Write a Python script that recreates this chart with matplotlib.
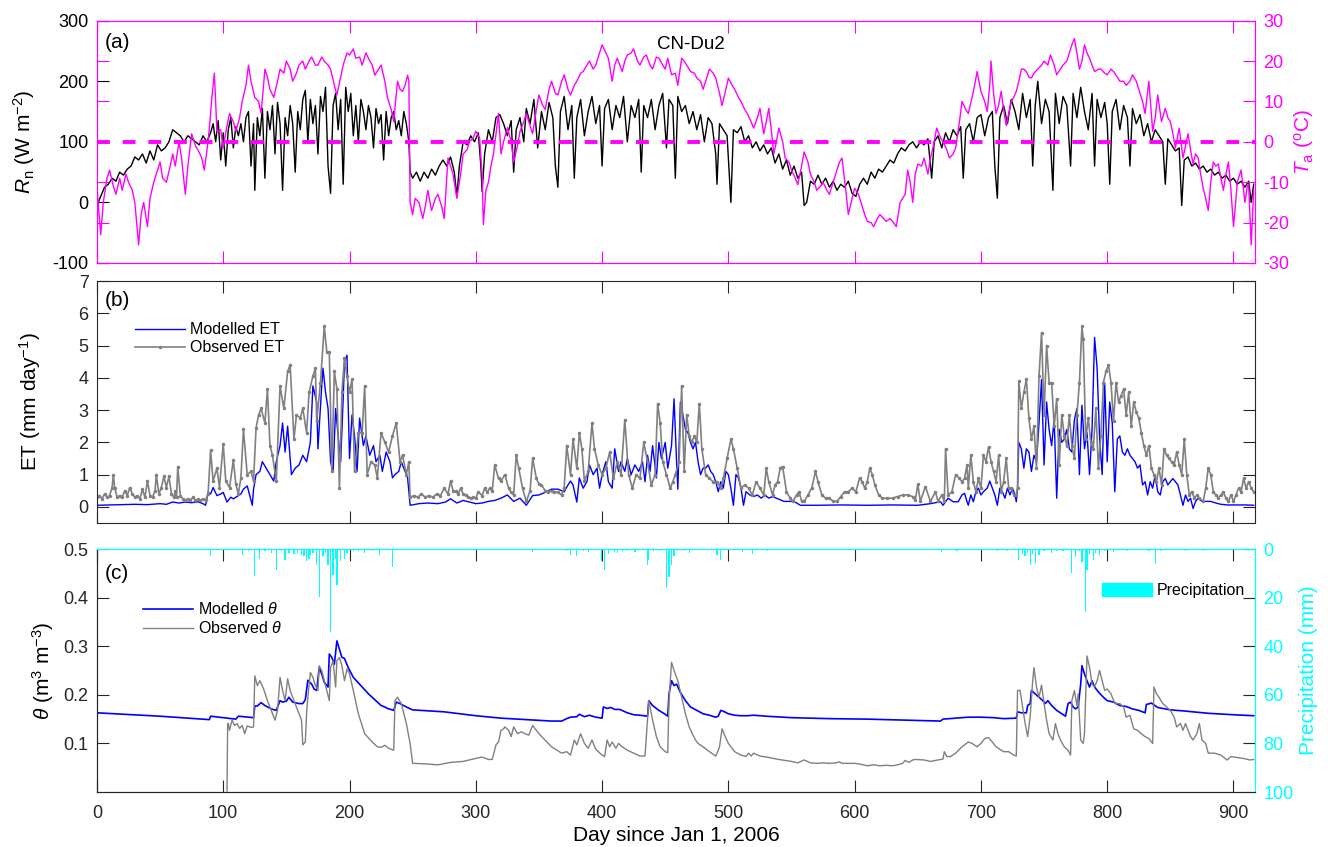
import numpy as np
import matplotlib
matplotlib.use("Agg")
import matplotlib.pyplot as plt
from matplotlib.patches import Patch

# (day, value) pairs, CN-Du2 site
rn = [(0, -5), (3, 10), (6, 25), (9, 30), (12, 40), (15, 35), (18, 50), (21, 45), (24, 55), (27, 60),
      (30, 75), (33, 70), (36, 80), (39, 65), (42, 85), (45, 70), (48, 95), (51, 85), (54, 90), (57, 100),
      (60, 120), (63, 115), (66, 110), (69, 100), (72, 110), (75, 105), (78, 100), (81, 95), (84, 110),
      (87, 100), (90, 115), (92, 130), (94, 100), (96, 135), (98, 70), (100, 115), (102, 60), (104, 120),
      (106, 140), (108, 90), (110, 125), (112, 110), (114, 130), (116, 100), (118, 140), (120, 150),
      (122, 60), (124, 130), (125, 20), (127, 140), (129, 110), (131, 155), (133, 40), (135, 150),
      (137, 120), (139, 160), (141, 80), (143, 165), (145, 130), (147, 20), (149, 140), (151, 110),
      (153, 160), (155, 130), (157, 50), (159, 150), (161, 120), (163, 170), (165, 185), (167, 100),
      (169, 170), (171, 130), (173, 160), (175, 80), (177, 175), (179, 150), (181, 190), (183, 60),
      (185, 15), (187, 160), (189, 180), (191, 120), (193, 170), (195, 30), (197, 190), (199, 150),
      (201, 180), (203, 110), (205, 160), (207, 100), (209, 170), (211, 150), (213, 120), (215, 160),
      (217, 140), (219, 90), (221, 155), (223, 130), (225, 145), (227, 70), (229, 150), (231, 110),
      (233, 140), (235, 150), (237, 120), (239, 135), (241, 110), (243, 150), (245, 130), (247, 100),
      (248, 50), (250, 40), (253, 50), (256, 35), (259, 50), (262, 40), (265, 55), (268, 45), (271, 60),
      (274, 70), (277, 60), (280, 75), (283, 50), (285, 10), (287, 60), (290, 100), (293, 95), (296, 110),
      (299, 100), (302, 115), (304, 60), (305, 18), (307, 80), (310, 120), (313, 100), (316, 140),
      (319, 145), (322, 130), (325, 110), (328, 135), (330, 50), (332, 120), (335, 140), (338, 100),
      (340, 155), (343, 130), (346, 170), (349, 90), (352, 150), (355, 120), (358, 165), (361, 140),
      (363, 60), (365, 25), (367, 150), (370, 175), (373, 120), (376, 160), (378, 40), (380, 140),
      (383, 170), (386, 110), (389, 150), (392, 175), (395, 130), (398, 160), (400, 60), (402, 155),
      (405, 170), (408, 120), (411, 160), (414, 140), (417, 175), (420, 100), (423, 160), (426, 140),
      (429, 170), (431, 50), (433, 160), (436, 140), (439, 170), (442, 120), (445, 160), (448, 180),
      (451, 90), (453, 170), (456, 160), (458, 40), (460, 175), (463, 150), (466, 160), (469, 130),
      (472, 150), (475, 120), (478, 145), (481, 100), (484, 140), (487, 130), (490, 80), (491, 30),
      (493, 130), (496, 120), (499, 110), (502, 0), (504, 120), (507, 115), (510, 125), (513, 100),
      (516, 110), (519, 90), (522, 100), (525, 85), (528, 95), (531, 80), (534, 90), (537, 65), (540, 80),
      (543, 55), (546, 70), (549, 45), (552, 60), (555, 40), (558, 50), (560, -5), (562, 0), (565, 35),
      (568, 30), (571, 45), (574, 30), (577, 40), (580, 25), (583, 35), (586, 20), (589, 30), (592, 25),
      (595, 35), (598, 15), (601, 10), (604, 30), (607, 40), (610, 30), (613, 50), (616, 40), (619, 55),
      (622, 50), (625, 60), (628, 70), (631, 65), (634, 80), (637, 90), (640, 85), (643, 95), (646, 100),
      (649, 90), (652, 100), (655, 95), (658, 105), (661, 40), (663, 100), (666, 110), (669, 90),
      (672, 115), (675, 100), (678, 120), (681, 110), (684, 125), (686, 40), (688, 120), (691, 130),
      (694, 100), (697, 140), (700, 145), (703, 110), (706, 140), (709, 150), (711, 60), (713, 7),
      (715, 140), (718, 160), (721, 130), (724, 170), (727, 150), (730, 120), (733, 180), (736, 140),
      (739, 170), (741, 60), (743, 160), (745, 200), (748, 130), (751, 170), (754, 150), (757, 20),
      (759, 180), (762, 130), (765, 175), (768, 160), (771, 60), (773, 180), (776, 140), (779, 190),
      (782, 150), (785, 120), (788, 180), (790, 60), (792, 170), (795, 140), (798, 165), (800, 130),
      (802, 30), (804, 150), (807, 170), (810, 120), (813, 160), (816, 140), (818, 60), (820, 155),
      (823, 130), (826, 145), (829, 110), (832, 130), (835, 100), (838, 120), (841, 110), (844, 100),
      (846, 30), (848, 105), (851, 95), (854, 85), (857, 90), (859, -5), (861, 70), (864, 75), (867, 60),
      (870, 65), (873, 55), (876, 60), (879, 50), (882, 55), (885, 45), (888, 50), (891, 40), (894, 45),
      (897, 35), (900, 40), (903, 30), (906, 35), (909, 25), (912, 35), (914, 0), (916, 30)]

ta = [(0, -11.5), (3, -23), (5, -15), (8, -9), (10, -7), (13, -11), (15, -13), (18, -9), (20, -12),
      (23, -8), (25, -10), (28, -12), (30, -15), (33, -25.5), (35, -18), (37, -15), (40, -21), (42, -14),
      (45, -10), (47, -8), (50, -5), (52, -9), (55, -10), (58, -6), (60, -3), (62, -6), (65, 0), (67, -4),
      (70, -13), (72, -6), (75, 2), (78, -1), (80, -2), (83, -4), (85, -7), (88, 0), (90, 7), (91, 11),
      (93, 17), (95, 2.6), (98, 3), (100, -1.5), (103, 4), (105, 7), (108, 5), (110, 2.6), (113, 6),
      (115, 10), (118, 14), (120, 19), (122, 15), (125, 11), (128, 10), (130, 7), (133, 18), (135, 16),
      (137, 13), (140, 11), (143, 15), (145, 18), (148, 17), (150, 20), (153, 18), (155, 15), (158, 17),
      (160, 19), (163, 20), (165, 18), (168, 20), (170, 21), (173, 19), (175, 19), (178, 21), (180, 20),
      (183, 19), (185, 18), (188, 14), (190, 11.6), (193, 16), (195, 19), (198, 22), (200, 21.5),
      (203, 23), (205, 20.7), (208, 21), (210, 19), (213, 22), (215, 20.7), (218, 19), (220, 16.5),
      (223, 18), (225, 19), (228, 15), (230, 11), (233, 8), (235, 5), (238, 15), (240, 13), (242, 12.5),
      (244, 14), (246, 16.5), (247, 15), (248, -15), (250, -18), (252, -14), (255, -15), (258, -19),
      (260, -16), (262, -12), (265, -17), (268, -14), (270, -13), (273, -16), (275, -19), (278, -4),
      (280, -6), (282, -8), (285, -14), (288, -8), (290, -3), (293, -2), (295, 0), (298, 1), (300, 2.6),
      (303, 1), (305, -8), (306, -20.5), (308, -12), (310, -10), (312, -6), (314, -3), (316, 2), (318, 7),
      (320, -3), (322, 0), (325, 3.5), (328, 0), (330, -5), (333, -1), (335, 2.6), (338, 5), (340, 7),
      (343, 4), (345, 2), (348, 8), (350, 11.6), (353, 9), (355, 8), (358, 13), (360, 15), (363, 12),
      (365, 11.6), (368, 15), (370, 16.6), (373, 13), (375, 11.6), (378, 14), (380, 15), (383, 17),
      (385, 17.4), (388, 19), (390, 20), (393, 18), (395, 19), (398, 22), (400, 24), (403, 22),
      (405, 20.7), (408, 15), (410, 19), (412, 20.7), (414, 19), (416, 17.4), (418, 20), (420, 21.5),
      (423, 22), (425, 23), (428, 20), (430, 19), (433, 21), (435, 21.5), (438, 19), (440, 18), (443, 21),
      (445, 20.7), (448, 19), (450, 18), (452, 20.7), (455, 16.6), (458, 17), (460, 14), (463, 20.7),
      (465, 20), (467, 19), (470, 17.4), (473, 17), (475, 15.8), (478, 15), (480, 13), (483, 16),
      (485, 18), (488, 17), (490, 15.8), (493, 12), (495, 9), (498, 13), (500, 15.8), (503, 14), (505, 13),
      (508, 11), (510, 10), (513, 8), (515, 7), (518, 5), (520, 3.4), (523, 6), (525, 8.3), (528, 2),
      (530, 5), (532, 8.3), (534, 3), (536, -3), (538, 0), (540, 3.4), (543, 0), (545, -4), (548, -5),
      (550, -7), (553, -9), (555, -10.6), (558, -6), (560, -2.5), (563, -5), (565, -8), (568, -10),
      (570, -12), (573, -11), (575, -10), (578, -12), (580, -13), (583, -10), (585, -8), (588, -5),
      (590, -4), (593, -12), (595, -18), (598, -14), (600, -11.5), (603, -13), (605, -15), (608, -18),
      (610, -19.7), (613, -20), (615, -21), (618, -19), (620, -18), (623, -19), (625, -19.7), (628, -19),
      (630, -19.7), (633, -21), (636, -15), (638, -14), (640, -13), (642, -7), (644, -10), (646, -15),
      (648, -8), (650, -5.5), (653, -6), (655, -4), (658, -8), (660, -4), (662, -1.5), (665, 3.4),
      (668, 1), (670, 0), (673, -2), (675, -4), (678, -3), (680, -1.5), (683, 5), (685, 10), (688, 8),
      (690, 7), (693, 11), (695, 14), (697, 17.4), (700, 12.5), (703, 10), (705, 7.5), (707, 14),
      (708, 20), (710, 12), (712, 7), (714, 9), (716, 12.5), (718, 8), (720, 4), (722, 7), (724, 10),
      (726, 11), (728, 12.5), (730, 15), (732, 18), (734, 18), (736, 17.4), (738, 16), (740, 15.8),
      (742, 17), (745, 18), (748, 19), (750, 20), (753, 19), (755, 21.5), (758, 19), (760, 16.6),
      (763, 18), (765, 19), (768, 20), (770, 22), (772, 24), (774, 25.6), (776, 22), (778, 18), (780, 20),
      (782, 24), (784, 22), (786, 20.7), (788, 19), (790, 17.4), (793, 18), (795, 18), (798, 17),
      (800, 16.6), (803, 18), (805, 17.4), (808, 16), (810, 15), (813, 15), (815, 14), (818, 15),
      (820, 16.6), (823, 15), (825, 13), (828, 10), (830, 7), (833, 15), (836, 2.6), (838, 6),
      (840, 11.6), (843, 5), (846, 8.3), (848, 6), (850, 5), (852, 2), (854, -1.5), (857, 3.4), (860, -4),
      (862, -1), (864, 2), (866, -2), (868, -5.5), (870, -3), (872, -4), (874, -8), (876, -11.5),
      (878, -14), (880, -17), (882, -10), (884, -5), (886, -6), (888, -5.5), (890, -9), (892, -12),
      (894, -8), (896, -5), (898, -12), (900, -21), (902, -14), (903, -10), (905, -8), (906, -7),
      (908, -12), (909, -15), (911, -11), (912, -10.6), (914, -25.5), (916, -12)]

et_obs = [(0, 0.3), (2, 0.35), (4, 0.25), (6, 0.4), (8, 0.3), (10, 0.35), (12, 0.6), (13, 1.0), (14, 0.6),
          (16, 0.3), (18, 0.35), (20, 0.3), (22, 0.5), (24, 0.35), (26, 0.6), (28, 0.4), (30, 0.3),
          (32, 0.35), (34, 0.25), (36, 0.55), (38, 0.3), (40, 0.8), (42, 0.35), (44, 0.3), (46, 0.5),
          (47, 1.0), (49, 0.4), (51, 0.6), (53, 0.95), (55, 0.6), (57, 0.95), (59, 0.4), (61, 0.3), (62, 0.5),
          (63, 0.3), (64, 1.25), (66, 0.35), (68, 0.25), (70, 0.2), (72, 0.25), (74, 0.2), (76, 0.3),
          (78, 0.2), (80, 0.25), (82, 0.2), (84, 0.25), (86, 0.2), (88, 0.4), (90, 1.75), (92, 0.8),
          (95, 1.2), (97, 0.6), (100, 1.95), (102, 0.8), (105, 0.6), (108, 1.45), (110, 0.7), (112, 0.4),
          (114, 0.9), (116, 2.4), (119, 1.0), (122, 1.1), (124, 0.8), (126, 2.45), (128, 2.85), (130, 3.05),
          (133, 2.6), (135, 3.65), (137, 1.9), (139, 1.6), (142, 0.8), (145, 3.75), (148, 3.05), (151, 4.2),
          (153, 4.4), (156, 2.1), (158, 2.85), (161, 2.75), (163, 3.05), (166, 2.3), (168, 3.55),
          (171, 4.05), (173, 4.3), (174, 2.65), (177, 3.85), (180, 5.6), (182, 4.8), (184, 4.8), (186, 1.1),
          (188, 4.2), (190, 3.65), (192, 0.6), (194, 3.55), (196, 4.6), (198, 4.05), (200, 3.55),
          (202, 3.95), (204, 1.1), (207, 2.3), (210, 2.3), (212, 3.75), (214, 1.0), (217, 1.4), (220, 1.3),
          (222, 0.9), (225, 2.3), (228, 2.0), (231, 1.7), (234, 2.2), (237, 2.6), (240, 1.4), (242, 1.6),
          (245, 1.0), (247, 1.4), (248, 0.3), (251, 0.35), (254, 0.3), (257, 0.4), (260, 0.3), (263, 0.35),
          (266, 0.3), (269, 0.4), (272, 0.35), (275, 0.58), (278, 0.4), (280, 0.8), (282, 0.5), (284, 0.48),
          (286, 0.4), (288, 0.58), (290, 0.4), (292, 0.37), (294, 0.3), (296, 0.27), (298, 0.3), (300, 0.27),
          (302, 0.47), (305, 0.35), (307, 0.58), (309, 0.45), (311, 0.58), (313, 0.5), (315, 1.3),
          (318, 0.88), (320, 0.8), (323, 1.0), (326, 0.58), (328, 0.45), (330, 0.37), (332, 1.6), (334, 1.2),
          (337, 0.58), (340, 0.17), (343, 0.5), (345, 1.5), (348, 0.88), (350, 0.7), (352, 0.68), (355, 0.5),
          (357, 0.47), (360, 0.5), (362, 0.47), (365, 0.45), (368, 0.37), (370, 0.6), (372, 1.9), (375, 1.0),
          (377, 2.1), (380, 1.2), (382, 2.3), (384, 1.8), (386, 0.8), (389, 1.1), (392, 2.6), (394, 1.8),
          (397, 1.3), (400, 1.0), (403, 1.2), (406, 1.7), (409, 0.88), (412, 1.4), (415, 1.0), (418, 2.7),
          (421, 1.0), (424, 0.58), (427, 1.0), (430, 0.88), (433, 2.0), (436, 1.4), (439, 0.68), (442, 1.0),
          (444, 3.2), (446, 2.6), (448, 1.4), (451, 1.0), (454, 0.58), (456, 0.78), (458, 1.0), (461, 1.4),
          (463, 3.75), (465, 1.1), (467, 2.85), (469, 2.2), (471, 2.0), (473, 2.2), (475, 2.0), (477, 3.2),
          (479, 1.8), (482, 1.0), (485, 0.88), (488, 0.78), (491, 0.78), (494, 0.58), (496, 0.88),
          (499, 1.5), (502, 2.1), (504, 1.8), (507, 1.2), (510, 0.58), (513, 0.68), (516, 0.58), (519, 0.37),
          (522, 0.78), (525, 0.58), (528, 0.37), (530, 1.2), (532, 0.78), (535, 0.37), (537, 0.68),
          (539, 0.78), (541, 1.2), (543, 1.25), (546, 0.47), (549, 0.27), (551, 0.17), (554, 0.37),
          (556, 0.47), (558, 0.17), (560, 0.17), (563, 0.37), (566, 0.58), (569, 1.1), (571, 0.78),
          (574, 0.37), (577, 0.27), (580, 0.27), (583, 0.17), (586, 0.17), (589, 0.32), (592, 0.47),
          (595, 0.47), (598, 0.58), (601, 0.47), (604, 0.9), (606, 0.78), (608, 0.58), (610, 0.78),
          (612, 1.2), (614, 1.0), (616, 0.68), (619, 0.37), (622, 0.27), (626, 0.27), (630, 0.27),
          (634, 0.32), (638, 0.37), (642, 0.37), (646, 0.32), (648, 0.2), (650, 0.7), (652, 0.17),
          (656, 0.63), (660, 0.17), (664, 0.47), (666, 0.17), (669, 0.37), (671, 0.17), (672, 1.8),
          (674, 0.37), (677, 0.47), (680, 1.0), (683, 0.88), (685, 0.78), (687, 0.88), (689, 1.3),
          (690, 0.58), (692, 1.6), (694, 0.78), (696, 0.47), (698, 0.88), (700, 0.58), (702, 1.6),
          (704, 1.4), (706, 1.85), (708, 1.4), (710, 1.1), (712, 0.78), (714, 1.6), (716, 0.47), (718, 0.78),
          (720, 1.5), (722, 0.58), (724, 0.58), (726, 0.37), (728, 0.37), (729, 0.58), (730, 3.9),
          (732, 3.05), (734, 3.55), (736, 3.95), (738, 2.75), (740, 2.1), (742, 2.5), (744, 1.2), (746, 4.05),
          (748, 5.4), (750, 2.85), (752, 5.0), (754, 3.85), (756, 3.85), (758, 2.5), (760, 3.35), (762, 1.3),
          (764, 2.85), (766, 2.2), (768, 1.9), (770, 2.85), (772, 1.9), (774, 1.5), (776, 2.85), (778, 3.85),
          (780, 5.6), (781, 5.2), (783, 2.1), (785, 2.75), (787, 2.0), (789, 1.8), (791, 3.05), (793, 1.2),
          (795, 2.2), (797, 3.85), (799, 4.2), (801, 4.4), (803, 3.85), (805, 2.65), (807, 3.85),
          (809, 3.25), (811, 3.45), (813, 3.65), (815, 2.85), (817, 3.55), (819, 2.5), (821, 3.25),
          (823, 2.95), (825, 2.75), (827, 2.3), (829, 1.9), (831, 1.6), (833, 1.9), (835, 1.2), (837, 1.0),
          (839, 0.78), (841, 1.2), (843, 0.68), (845, 1.8), (847, 1.6), (849, 1.5), (851, 1.4), (853, 1.3),
          (855, 1.7), (857, 1.3), (859, 1.0), (861, 2.1), (863, 1.0), (865, 0.37), (867, 0.47), (869, 0.27),
          (871, 0.37), (873, 0.27), (876, 0.17), (878, 0.58), (880, 1.2), (882, 1.0), (884, 0.47),
          (886, 0.37), (888, 0.27), (890, 0.37), (892, 0.47), (894, 0.27), (896, 0.17), (898, 0.37),
          (900, 0.17), (902, 0.37), (904, 0.58), (906, 0.47), (908, 0.88), (910, 0.58), (912, 0.78),
          (914, 0.58), (916, 0.47)]

et_mod = [(0, 0.05), (10, 0.06), (20, 0.07), (30, 0.08), (40, 0.07), (50, 0.1), (55, 0.08), (60, 0.15),
          (65, 0.12), (70, 0.15), (75, 0.13), (80, 0.16), (84, 0.1), (86, 0.05), (88, 0.45), (90, 0.4),
          (92, 0.6), (95, 0.35), (98, 0.4), (100, 0.45), (103, 0.15), (106, 0.3), (108, 0.25), (110, 0.3),
          (112, 0.35), (114, 0.4), (116, 0.55), (119, 0.65), (121, 0.35), (123, 0.05), (124, 0.55),
          (126, 1.0), (129, 1.1), (131, 1.4), (134, 1.2), (137, 1.0), (140, 0.8), (142, 1.4), (145, 1.9),
          (147, 2.6), (149, 1.7), (151, 2.5), (154, 1.0), (157, 1.2), (160, 1.3), (163, 1.6), (166, 1.4),
          (169, 2.0), (171, 3.75), (174, 3.25), (175, 1.8), (178, 3.75), (179, 4.3), (181, 3.55),
          (183, 3.05), (185, 1.4), (187, 1.1), (189, 3.05), (191, 2.2), (193, 1.4), (195, 3.35), (196, 4.5),
          (198, 4.7), (200, 1.5), (202, 2.85), (204, 2.2), (206, 1.1), (208, 2.75), (211, 1.9), (213, 2.2),
          (216, 1.6), (219, 1.9), (221, 1.4), (224, 1.6), (226, 1.1), (229, 1.7), (232, 1.4), (234, 0.9),
          (236, 1.0), (239, 1.1), (241, 1.4), (244, 1.1), (246, 0.9), (248, 0.05), (255, 0.1), (262, 0.12),
          (270, 0.1), (276, 0.15), (280, 0.25), (285, 0.12), (290, 0.2), (295, 0.15), (300, 0.1),
          (305, 0.12), (310, 0.17), (315, 0.2), (320, 0.27), (325, 0.37), (330, 0.17), (335, 0.27),
          (340, 0.05), (345, 0.35), (350, 0.37), (355, 0.45), (360, 0.55), (365, 0.55), (370, 0.47),
          (373, 0.68), (375, 0.8), (377, 0.68), (380, 0.15), (382, 0.9), (385, 0.58), (388, 0.78), (390, 1.3),
          (393, 1.0), (396, 1.2), (398, 0.58), (400, 1.0), (403, 1.4), (405, 0.78), (408, 0.58), (410, 1.8),
          (413, 1.1), (415, 1.4), (418, 1.1), (420, 1.5), (423, 1.0), (426, 1.3), (429, 1.1), (432, 1.4),
          (434, 0.78), (436, 1.6), (438, 1.1), (440, 1.9), (443, 0.9), (445, 2.0), (447, 1.5), (450, 2.0),
          (452, 1.2), (455, 1.9), (457, 3.35), (459, 1.4), (460, 0.55), (462, 3.25), (464, 2.85), (466, 2.4),
          (468, 2.3), (470, 2.0), (472, 1.8), (474, 2.0), (476, 1.4), (478, 1.0), (480, 1.2), (482, 1.2),
          (484, 1.3), (486, 1.1), (488, 1.0), (490, 0.78), (492, 0.47), (494, 0.78), (496, 0.58), (498, 1.1),
          (500, 1.0), (502, 0.58), (504, 0.05), (506, 1.0), (508, 0.9), (510, 0.58), (512, 0.05),
          (514, 0.47), (517, 0.37), (520, 0.32), (523, 0.37), (526, 0.27), (529, 0.37), (532, 0.27),
          (535, 0.32), (538, 0.27), (541, 0.22), (544, 0.17), (548, 0.17), (552, 0.17), (555, 0.1),
          (557, 0.05), (570, 0.05), (590, 0.06), (610, 0.05), (630, 0.06), (650, 0.05), (660, 0.1),
          (668, 0.16), (670, 0.05), (674, 0.27), (678, 0.16), (682, 0.16), (685, 0.37), (687, 0.42),
          (689, 0.16), (690, 0.05), (692, 0.37), (694, 0.16), (696, 0.47), (698, 0.58), (700, 0.37),
          (702, 0.47), (705, 0.58), (707, 0.8), (709, 0.58), (711, 0.37), (713, 0.05), (715, 0.58),
          (717, 0.47), (719, 0.27), (721, 0.58), (723, 0.37), (725, 0.58), (727, 0.37), (728, 0.16),
          (729, 0.58), (730, 2.0), (732, 1.8), (734, 1.2), (736, 1.8), (738, 1.7), (740, 1.1), (742, 1.6),
          (744, 1.4), (746, 2.6), (748, 3.95), (750, 1.3), (752, 3.25), (754, 2.4), (756, 1.9), (758, 2.7),
          (760, 0.27), (762, 2.4), (764, 2.0), (766, 2.1), (768, 2.4), (770, 1.8), (772, 1.7), (774, 2.7),
          (776, 3.05), (778, 1.0), (780, 3.15), (782, 1.8), (784, 2.3), (786, 1.0), (788, 2.4), (790, 5.25),
          (792, 4.3), (794, 2.1), (796, 1.0), (798, 3.85), (800, 1.4), (802, 3.25), (804, 2.6), (806, 0.47),
          (808, 2.1), (810, 2.2), (812, 1.7), (814, 1.6), (816, 1.8), (818, 1.6), (820, 1.5), (822, 1.4),
          (824, 1.2), (826, 1.3), (828, 0.68), (830, 0.78), (832, 0.37), (834, 0.78), (836, 0.58),
          (838, 1.0), (840, 0.47), (842, 0.37), (844, 0.78), (846, 0.88), (848, 0.68), (850, 0.78),
          (852, 0.88), (854, 0.78), (856, 0.68), (858, 0.37), (860, 0.05), (862, 0.37), (864, 0.17),
          (866, 0.27), (868, -0.05), (870, 0.17), (872, 0.27), (875, 0.17), (878, 0.17), (882, 0.17),
          (886, 0.12), (890, 0.08), (895, 0.06), (900, 0.06), (905, 0.06), (910, 0.06), (916, 0.05)]

theta_mod = [(0, 0.163), (50, 0.156), (89, 0.149), (90, 0.156), (100, 0.153), (110, 0.150), (112, 0.156),
             (120, 0.154), (124, 0.153), (125, 0.177), (127, 0.177), (130, 0.184), (133, 0.178),
             (138, 0.171), (142, 0.168), (145, 0.188), (147, 0.185), (150, 0.187), (152, 0.195),
             (155, 0.185), (160, 0.182), (163, 0.182), (165, 0.19), (167, 0.23), (170, 0.222), (172, 0.212),
             (174, 0.209), (176, 0.256), (178, 0.243), (180, 0.226), (183, 0.216), (184, 0.284),
             (186, 0.277), (188, 0.263), (190, 0.311), (192, 0.294), (194, 0.277), (196, 0.275),
             (199, 0.256), (203, 0.236), (210, 0.216), (215, 0.202), (220, 0.19), (225, 0.178), (228, 0.175),
             (230, 0.172), (235, 0.168), (237, 0.185), (240, 0.182), (245, 0.175), (250, 0.169),
             (275, 0.165), (300, 0.157), (320, 0.152), (340, 0.149), (360, 0.146), (368, 0.146),
             (372, 0.151), (375, 0.154), (380, 0.155), (382, 0.16), (386, 0.155), (390, 0.158), (395, 0.154),
             (400, 0.152), (401, 0.175), (404, 0.172), (407, 0.174), (410, 0.17), (414, 0.17), (420, 0.163),
             (425, 0.159), (430, 0.158), (436, 0.156), (437, 0.188), (440, 0.178), (445, 0.168), (450, 0.16),
             (452, 0.156), (453, 0.202), (455, 0.229), (457, 0.219), (459, 0.222), (462, 0.205),
             (466, 0.188), (470, 0.175), (475, 0.168), (480, 0.161), (485, 0.158), (490, 0.154),
             (492, 0.156), (494, 0.168), (497, 0.165), (500, 0.161), (505, 0.158), (510, 0.157),
             (515, 0.157), (520, 0.158), (530, 0.156), (550, 0.153), (580, 0.151), (610, 0.150),
             (640, 0.148), (668, 0.146), (670, 0.15), (680, 0.152), (690, 0.154), (700, 0.154), (710, 0.153),
             (718, 0.151), (728, 0.152), (729, 0.165), (732, 0.163), (736, 0.163), (737, 0.178), (739, 0.182),
             (740, 0.209), (743, 0.202), (746, 0.195), (749, 0.188), (751, 0.182), (753, 0.188), (756, 0.178),
             (760, 0.168), (764, 0.161), (767, 0.156), (769, 0.182), (771, 0.185), (773, 0.175),
             (775, 0.171), (777, 0.175), (779, 0.222), (780, 0.26), (782, 0.243), (784, 0.229), (786, 0.216),
             (788, 0.229), (790, 0.216), (793, 0.206), (797, 0.195), (800, 0.188), (805, 0.185), (810, 0.178),
             (815, 0.176), (820, 0.171), (825, 0.168), (830, 0.163), (831, 0.18), (835, 0.183), (840, 0.174),
             (850, 0.169), (860, 0.167), (880, 0.162), (900, 0.159), (916, 0.157)]

theta_obs = [(103, 0.002), (103.5, 0.141), (104, 0.141), (105, 0.127), (107, 0.148), (109, 0.137),
             (111, 0.141), (113, 0.131), (115, 0.137), (117, 0.12), (119, 0.136), (121, 0.134), (123, 0.133),
             (124, 0.134), (125, 0.239), (127, 0.219), (129, 0.229), (132, 0.212), (135, 0.188), (138, 0.168),
             (141, 0.148), (143, 0.168), (145, 0.236), (147, 0.209), (149, 0.188), (151, 0.233), (153, 0.209),
             (156, 0.188), (159, 0.168), (162, 0.148), (163, 0.097), (165, 0.103), (166, 0.161), (167, 0.195),
             (169, 0.246), (171, 0.236), (173, 0.219), (175, 0.209), (176, 0.26), (178, 0.25), (180, 0.229),
             (182, 0.209), (184, 0.188), (185, 0.256), (187, 0.27), (189, 0.216), (190, 0.27), (192, 0.277),
             (194, 0.26), (196, 0.229), (198, 0.253), (200, 0.243), (203, 0.209), (207, 0.161), (212, 0.12),
             (218, 0.103), (222, 0.093), (225, 0.092), (228, 0.096), (231, 0.09), (235, 0.086), (236, 0.188),
             (238, 0.195), (241, 0.182), (245, 0.141), (248, 0.1), (250, 0.059), (260, 0.058), (270, 0.056),
             (280, 0.061), (290, 0.063), (298, 0.068), (305, 0.072), (310, 0.067), (313, 0.067), (316, 0.097),
             (318, 0.103), (320, 0.127), (322, 0.13), (323, 0.134), (326, 0.127), (328, 0.114), (330, 0.134),
             (333, 0.12), (336, 0.124), (339, 0.12), (342, 0.117), (345, 0.137), (350, 0.12), (360, 0.093),
             (368, 0.08), (372, 0.083), (375, 0.076), (378, 0.107), (380, 0.097), (383, 0.12), (386, 0.1),
             (389, 0.09), (392, 0.107), (395, 0.088), (400, 0.076), (402, 0.073), (404, 0.107), (406, 0.093),
             (408, 0.103), (411, 0.09), (413, 0.1), (416, 0.093), (420, 0.086), (425, 0.08), (430, 0.074),
             (434, 0.074), (437, 0.188), (440, 0.148), (443, 0.114), (446, 0.093), (450, 0.083), (452, 0.081),
             (453, 0.188), (455, 0.267), (457, 0.25), (460, 0.229), (463, 0.195), (466, 0.161), (469, 0.134),
             (472, 0.117), (474, 0.107), (476, 0.1), (480, 0.093), (485, 0.083), (490, 0.074), (492, 0.086),
             (493, 0.093), (495, 0.13), (497, 0.117), (500, 0.1), (505, 0.083), (510, 0.076), (514, 0.073),
             (516, 0.08), (518, 0.074), (520, 0.08), (525, 0.074), (530, 0.072), (540, 0.067), (550, 0.063),
             (555, 0.06), (560, 0.066), (565, 0.06), (570, 0.059), (575, 0.06), (580, 0.059), (585, 0.06),
             (588, 0.062), (590, 0.059), (595, 0.059), (600, 0.059), (605, 0.057), (610, 0.054),
             (615, 0.056), (620, 0.054), (625, 0.055), (630, 0.054), (634, 0.056), (638, 0.059), (640, 0.065),
             (643, 0.061), (646, 0.066), (648, 0.067), (655, 0.066), (660, 0.063), (670, 0.068), (671, 0.083),
             (673, 0.073), (676, 0.073), (680, 0.08), (685, 0.093), (690, 0.103), (693, 0.1), (697, 0.093),
             (700, 0.1), (703, 0.11), (706, 0.112), (709, 0.103), (712, 0.093), (715, 0.088), (718, 0.083),
             (722, 0.083), (726, 0.076), (728, 0.074), (729, 0.209), (731, 0.209), (733, 0.175), (735, 0.141),
             (737, 0.114), (739, 0.155), (741, 0.229), (742, 0.256), (744, 0.216), (746, 0.195), (748, 0.22),
             (750, 0.182), (752, 0.148), (754, 0.12), (757, 0.107), (759, 0.141), (761, 0.12), (763, 0.107),
             (766, 0.093), (769, 0.086), (771, 0.076), (772, 0.188), (774, 0.209), (776, 0.178), (777, 0.202),
             (779, 0.107), (781, 0.1), (782, 0.12), (784, 0.28), (786, 0.256), (788, 0.222), (790, 0.216),
             (792, 0.229), (794, 0.25), (796, 0.229), (798, 0.209), (800, 0.212), (803, 0.202), (806, 0.182),
             (810, 0.182), (813, 0.175), (815, 0.154), (818, 0.158), (821, 0.13), (824, 0.127), (827, 0.12),
             (830, 0.114), (833, 0.11), (836, 0.1), (837, 0.216), (839, 0.202), (841, 0.195), (844, 0.182),
             (847, 0.175), (850, 0.168), (853, 0.154), (855, 0.134), (858, 0.141), (860, 0.127), (862, 0.141),
             (864, 0.127), (866, 0.114), (868, 0.107), (871, 0.12), (873, 0.141), (875, 0.107), (878, 0.1),
             (880, 0.08), (885, 0.08), (890, 0.076), (895, 0.066), (898, 0.073), (903, 0.071), (908, 0.069),
             (913, 0.066), (916, 0.067)]

precip = [(5, 0.5), (20, 0.3), (45, 0.4), (90, 2.7), (100, 0.5), (115, 2.5), (120, 1), (125, 11), (129, 4),
          (133, 1), (138, 1.5), (142, 8.7), (146, 1), (149, 4.5), (152, 1.5), (156, 2), (159, 1.5), (162, 2.5),
          (164, 3), (166, 5), (168, 4), (169, 2.5), (171, 1.5), (174, 6.6), (176, 19.6), (179, 2.7),
          (181, 1.5), (183, 6.5), (185, 34), (187, 10.7), (189, 4), (190, 15), (193, 5), (196, 4), (198, 1.8),
          (203, 1), (207, 0.8), (212, 1.8), (218, 0.8), (224, 2.5), (230, 0.6), (234, 7.3), (240, 0.5),
          (255, 0.3), (301, 0.6), (330, 0.5), (345, 1.4), (360, 0.5), (372, 0.8), (375, 2.5), (380, 2.7),
          (385, 1), (389, 1.1), (395, 0.5), (400, 5), (402, 8.7), (405, 2), (410, 1.1), (412, 1.8), (416, 0.8),
          (420, 0.8), (426, 1.1), (430, 0.6), (436, 6.6), (437, 4.5), (441, 1), (446, 0.8), (451, 16),
          (453, 11.4), (455, 6.6), (457, 3), (460, 1), (465, 0.8), (469, 1.8), (475, 0.5), (485, 0.6),
          (491, 2.5), (494, 4.5), (500, 0.8), (505, 0.6), (511, 1.1), (519, 2), (525, 0.5), (531, 0.7),
          (545, 0.3), (600, 0.3), (640, 0.3), (660, 0.5), (669, 1.1), (675, 0.5), (681, 0.7), (690, 0.5),
          (700, 0.6), (706, 0.4), (713, 0.8), (718, 0.5), (721, 0.7), (726, 0.6), (730, 4.5), (733, 2),
          (735, 2.7), (737, 1.5), (739, 6.6), (741, 2), (743, 5.9), (746, 2.5), (750, 1), (756, 1.8),
          (760, 0.7), (765, 0.8), (772, 10), (775, 3.2), (778, 1), (780, 5.5), (783, 25.8), (784, 8.7),
          (786, 2), (789, 4.5), (791, 1.5), (794, 2.5), (798, 0.8), (805, 1.1), (810, 0.6), (816, 0.8),
          (822, 0.5), (828, 0.6), (833, 0.8), (838, 6), (842, 1), (848, 0.6), (855, 0.5), (862, 0.8),
          (870, 0.4), (876, 0.7), (885, 0.4), (895, 0.3)]

MAG = '#ff00ff'
CYAN = '#00ffff'
DARK = '#262626'
GRAY = '#808080'
BLUE = '#0000ff'
TICK_FS = 13
LABEL_FS = 15

plt.rcParams['font.family'] = ['Liberation Sans', 'DejaVu Sans']
plt.rcParams['mathtext.fontset'] = 'custom'
plt.rcParams['mathtext.rm'] = 'Liberation Sans'
plt.rcParams['mathtext.it'] = 'Liberation Sans:italic'
plt.rcParams['axes.unicode_minus'] = False


def xy(pairs):
    arr = np.array(pairs, dtype=float)
    return arr[:, 0], arr[:, 1]


def ticks(ax, axis, color, **kw):
    ax.tick_params(axis=axis, direction='in', length=8.5, width=0.8, colors=color,
                   labelsize=TICK_FS, **kw)


fig = plt.figure(figsize=(13.28, 8.47), dpi=100)
left, width = 0.073, 0.872
ax_a = fig.add_axes([left, 0.6895, width, 0.2861])
ax_b = fig.add_axes([left, 0.3825, width, 0.2857])
ax_c = fig.add_axes([left, 0.0649, width, 0.2869])
for ax in (ax_a, ax_b, ax_c):
    ax.set_xlim(0, 917)
    ax.set_xticks(np.arange(0, 901, 100))

# (a) net radiation and air temperature
d, v = xy(rn)
ax_a.plot(d, v, color='black', lw=1.0)
ax_a.set_ylim(-100, 300)
ax_a.set_yticks(np.arange(-100, 301, 100))
ticks(ax_a, 'y', 'black', left=True, right=True, pad=6)
ticks(ax_a, 'x', MAG, top=True, bottom=True, labelbottom=False, pad=9)
ax_a.set_ylabel(r'$R_\mathrm{n}$ (W m$^{-2}$)', fontsize=LABEL_FS)
ax_a.yaxis.set_label_coords(-0.052, 0.5)
ax_a2 = ax_a.twinx()
d, v = xy(ta)
ax_a2.plot(d, v, color=MAG, lw=1.0)
ax_a2.plot([0, 917], [0, 0], color=MAG, lw=2.8, ls=(0, (3.3, 3.3)))
ax_a2.set_ylim(-30, 30)
ax_a2.set_yticks(np.arange(-30, 31, 10))
ticks(ax_a2, 'y', MAG, left=True, right=True, pad=6)
ax_a2.set_ylabel(r'$T_\mathrm{a}$ ($^\mathrm{o}$C)', color=MAG, fontsize=LABEL_FS, labelpad=2)
for ax in (ax_a, ax_a2):
    for sp in ax.spines.values():
        sp.set_color(MAG)
ax_a.text(0.007, 0.91, '(a)', transform=ax_a.transAxes, fontsize=LABEL_FS, va='center')
ax_a.text(0.513, 0.9, 'CN-Du2', transform=ax_a.transAxes, fontsize=13.5, ha='center', va='center')

# (b) evapotranspiration
d, v = xy(et_mod)
ax_b.plot(d, v, color=BLUE, lw=1.0, label='Modelled ET')
d, v = xy(et_obs)
ax_b.plot(d, v, color=GRAY, lw=1.2, marker='.', ms=3, label='Observed ET')
ax_b.set_ylim(-0.5, 7)
ax_b.set_yticks(np.arange(0, 8, 1))
ticks(ax_b, 'y', DARK, left=True, right=True, pad=6)
ticks(ax_b, 'x', DARK, top=True, bottom=True, labelbottom=False)
for sp in ax_b.spines.values():
    sp.set_color(DARK)
ax_b.set_ylabel(r'ET (mm day$^{-1}$)', fontsize=LABEL_FS)
ax_b.yaxis.set_label_coords(-0.047, 0.5)
ax_b.legend(loc='upper left', bbox_to_anchor=(0.033, 0.83), frameon=False, fontsize=11.5,
            handlelength=3.1, handletextpad=0.35, labelspacing=0.2, borderpad=0, borderaxespad=0)
ax_b.text(0.007, 0.92, '(b)', transform=ax_b.transAxes, fontsize=LABEL_FS, va='center')

# (c) soil moisture and precipitation
ax_c2 = ax_c.twinx()
d, v = xy(precip)
ax_c2.bar(d, v, width=1.0, color=CYAN, label='Precipitation')
ax_c2.set_ylim(100, 0)
ax_c2.set_yticks(np.arange(0, 101, 20))
ticks(ax_c2, 'y', CYAN, right=True, pad=6)
ax_c2.set_ylabel('Precipitation (mm)', color=CYAN, fontsize=LABEL_FS, labelpad=4)
d, v = xy(theta_mod)
ax_c.plot(d, v, color=BLUE, lw=1.2, label=r'Modelled $\theta$')
d, v = xy(theta_obs)
ax_c.plot(d, v, color=GRAY, lw=1.0, label=r'Observed $\theta$')
ax_c.set_ylim(0, 0.5)
ax_c.set_yticks([0.1, 0.2, 0.3, 0.4, 0.5])
ax_c.set_yticklabels(['0.1', '0.2', '0.3', '0.4', '0.5'])
ticks(ax_c, 'y', DARK, left=True, right=True, pad=6)
ticks(ax_c, 'x', DARK, top=True, bottom=True, pad=9)
ax_c.set_zorder(ax_c2.get_zorder() + 1)
ax_c.patch.set_visible(False)
for ax in (ax_c, ax_c2):
    ax.spines['left'].set_color(DARK)
    ax.spines['bottom'].set_color(DARK)
    ax.spines['top'].set_color(CYAN)
    ax.spines['right'].set_color(CYAN)
ax_c.set_ylabel(r'$\theta$ (m$^3$ m$^{-3}$)', fontsize=LABEL_FS)
ax_c.yaxis.set_label_coords(-0.035, 0.5)
ax_c.set_xlabel('Day since Jan 1, 2006', fontsize=LABEL_FS, labelpad=3)
ax_c.legend(loc='upper left', bbox_to_anchor=(0.04, 0.785), frameon=False, fontsize=11.5,
            handlelength=3.1, handletextpad=0.35, labelspacing=0.2, borderpad=0, borderaxespad=0)
ax_c2.legend(handles=[Patch(color=CYAN, label='Precipitation')], loc='upper left',
             bbox_to_anchor=(0.868, 0.86), frameon=False, fontsize=11.5, handlelength=3.1,
             handleheight=0.9, handletextpad=0.35, borderpad=0, borderaxespad=0)
ax_c.text(0.007, 0.9, '(c)', transform=ax_c.transAxes, fontsize=LABEL_FS, va='center')

fig.savefig('out.png', dpi=100)
